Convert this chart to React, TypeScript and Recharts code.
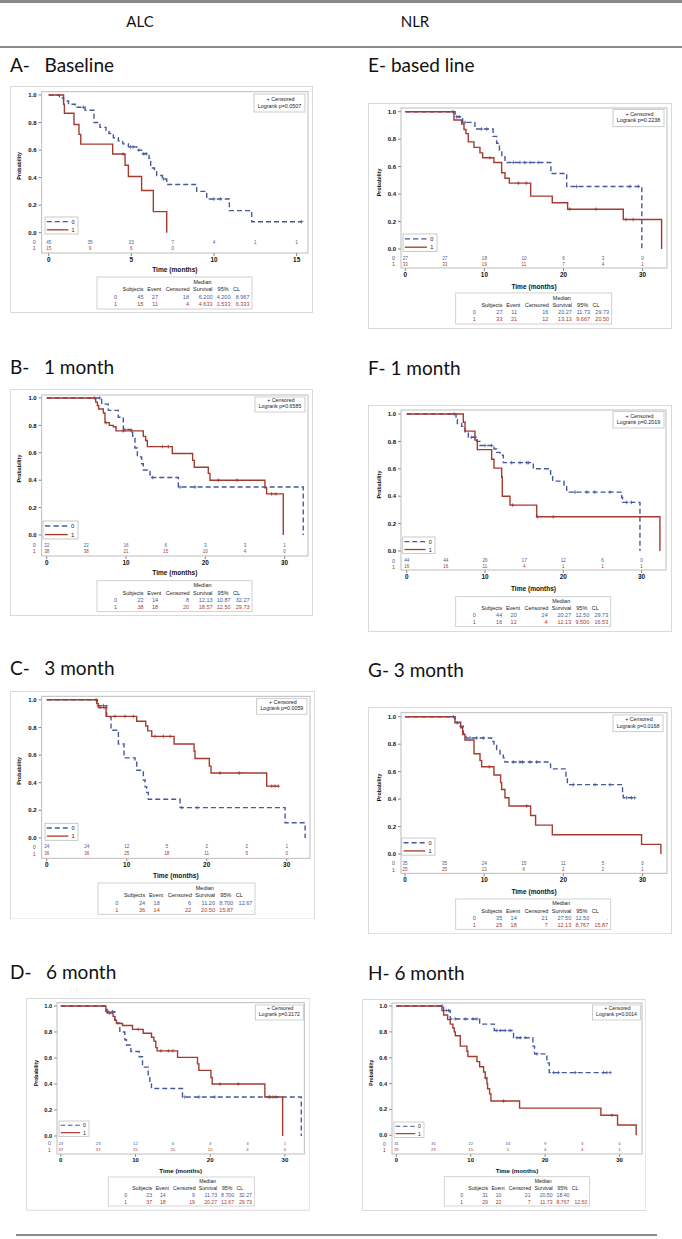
import React from 'react';
import { ComposedChart, Line, Scatter, XAxis, YAxis } from 'recharts';

const BLUE = '#46599c';
const RED = '#a53b30';
const FONT = '"Liberation Sans", Arial, sans-serif';
const TFONT = 'Lato, "Open Sans", sans-serif';

// risk-table times
const RISK_T_A = [0, 2.5, 5, 7.5, 10, 12.5, 15];
const RISK_T = [0, 5, 10, 15, 20, 25, 30];
const X_TICKS_A = [0, 5, 10, 15];
const X_TICKS = [0, 10, 20, 30];
const Y_TICKS = [0, 0.2, 0.4, 0.6, 0.8, 1];

// ---- A: ALC baseline
const A0_T = [0.65, 0.9, 1.2, 1.6, 2.2, 2.74, 3.1, 3.47, 3.65, 3.91, 4.21, 4.48, 4.82, 5.32, 5.62, 6.07, 6.17, 6.4, 6.53, 6.88, 7.14, 8.95, 9.56, 10.93, 12.28];
const A0_S = [0.978, 0.956, 0.933, 0.911, 0.889, 0.8, 0.765, 0.742, 0.72, 0.69, 0.667, 0.645, 0.623, 0.6, 0.573, 0.54, 0.47, 0.443, 0.415, 0.39, 0.35, 0.3, 0.245, 0.16, 0.08];
const A0_C = [2.1, 4.95, 5.1, 5.45, 5.75, 5.9, 6.95, 10.0, 10.4, 15.3];
const A1_T = [0.9, 0.95, 1.53, 1.83, 1.94, 3.87, 4.62, 4.82, 5.62, 6.33, 7.14];
const A1_S = [0.933, 0.867, 0.786, 0.714, 0.643, 0.571, 0.49, 0.408, 0.306, 0.153, 0];
const A1_C = [4.5];
const A_R0 = [45, 35, 23, 7, 4, 1, 1];
const A_R1 = [15, 9, 6, 0];
const A_TAB0 = ['0', '45', '27', '18', '6.200', '4.200', '8.967'];
const A_TAB1 = ['1', '15', '11', '4', '4.633', '1.533', '6.333'];
const A_P = '0.0507';

// ---- E: NLR baseline
const E0_T = [6.3, 7.25, 8.8, 11.1, 11.55, 11.9, 12.2, 12.6, 18.4, 20.4, 29.9];
const E0_S = [0.963, 0.922, 0.874, 0.82, 0.77, 0.72, 0.67, 0.63, 0.55, 0.455, 0];
const E0_C = [6.0, 6.5, 6.8, 7.55, 9.65, 10.3, 13.65, 14.5, 15.1, 15.76, 16.8, 21.66, 28.4, 29.46];
const E1_T = [6.15, 7.12, 7.42, 7.67, 7.96, 8.68, 9.44, 9.78, 11.2, 12.18, 12.6, 13.15, 15.85, 18.58, 20.52, 27.56, 32.4];
const E1_S = [0.94, 0.91, 0.87, 0.84, 0.78, 0.74, 0.7, 0.665, 0.63, 0.555, 0.515, 0.48, 0.385, 0.337, 0.29, 0.215, 0];
const E1_C = [10.7, 14.3, 15.3, 20.8, 24.1, 27.9, 28.8];
const E_R0 = [27, 27, 18, 10, 6, 3, 0];
const E_R1 = [33, 33, 19, 11, 7, 4, 1];
const E_TAB0 = ['0', '27', '11', '16', '20.27', '11.73', '29.73'];
const E_TAB1 = ['1', '33', '21', '12', '13.13', '9.667', '20.50'];
const E_P = '0.2238';

// ---- B: ALC 1 month
const B0_T = [6.93, 7.77, 9.03, 9.66, 10.84, 11.13, 11.43, 11.97, 12.18, 13.03, 16.6, 32.35];
const B0_S = [0.955, 0.91, 0.86, 0.77, 0.71, 0.635, 0.57, 0.52, 0.475, 0.42, 0.35, 0];
const B0_C = [6.7, 9.87, 13.36, 16.8, 18.7];
const B1_T = [6.18, 6.39, 6.55, 7.14, 7.35, 7.9, 8.4, 8.74, 12.18, 12.48, 12.69, 15.84, 18.4, 18.61, 20.38, 20.59, 27.52, 27.73, 29.83];
const B1_S = [0.97, 0.945, 0.92, 0.89, 0.82, 0.8, 0.79, 0.76, 0.72, 0.69, 0.645, 0.595, 0.545, 0.495, 0.45, 0.4, 0.345, 0.3, 0];
const B1_C = [6.0, 7.48, 9.66, 10.7, 14.58, 15.34, 21.64, 24.0, 28.36, 28.9];
const B_R0 = [22, 22, 16, 6, 3, 3, 1];
const B_R1 = [38, 38, 21, 15, 10, 4, 0];
const B_TAB0 = ['0', '22', '14', '8', '12.13', '10.87', '32.27'];
const B_TAB1 = ['1', '38', '18', '20', '18.57', '12.50', '29.73'];
const B_P = '0.6585';

// ---- F: NLR 1 month
const F0_T = [6.3, 6.47, 7.02, 7.45, 7.87, 8.94, 9.36, 11.15, 11.49, 11.91, 12.34, 16.17, 18.38, 18.64, 20.09, 20.43, 27.45, 27.57, 29.79];
const F0_S = [0.96, 0.93, 0.91, 0.87, 0.83, 0.8, 0.77, 0.745, 0.72, 0.7, 0.645, 0.6, 0.55, 0.51, 0.47, 0.43, 0.39, 0.355, 0];
const F0_C = [6.04, 8.3, 8.72, 10.0, 10.85, 13.4, 14.47, 15.32, 15.53, 21.5, 23.0, 24.0, 25.96, 28.1, 28.7];
const F1_T = [7.23, 7.45, 8.72, 9.02, 10.85, 11.15, 12.13, 12.21, 13.19, 16.6, 32.34];
const F1_S = [0.94, 0.875, 0.81, 0.74, 0.67, 0.605, 0.54, 0.4, 0.335, 0.25, 0];
const F1_C = [13.53, 16.7, 18.72];
const F_R0 = [44, 44, 26, 17, 12, 6, 0];
const F_R1 = [16, 16, 11, 4, 1, 1, 1];
const F_TAB0 = ['0', '44', '20', '24', '20.27', '12.50', '29.73'];
const F_TAB1 = ['1', '16', '12', '4', '12.13', '9.500', '16.53'];
const F_P = '0.2019';

// ---- C: ALC 3 month
const C0_T = [6.33, 7.5, 8.04, 8.96, 9.67, 11.04, 11.25, 12.08, 12.3, 12.5, 12.7, 16.67, 29.8, 32.3];
const C0_S = [0.958, 0.875, 0.78, 0.68, 0.58, 0.55, 0.49, 0.42, 0.37, 0.33, 0.28, 0.22, 0.11, 0];
const C0_C = [7.1, 16.9, 18.8];
const C1_T = [6.25, 6.46, 7.42, 11.25, 12.38, 12.63, 13.13, 15.92, 18.42, 18.54, 20.33, 20.54, 27.5];
const C1_S = [0.972, 0.944, 0.88, 0.845, 0.81, 0.775, 0.735, 0.68, 0.63, 0.575, 0.52, 0.47, 0.375];
const C1_C = [6.17, 6.67, 7.17, 8.54, 9.79, 10.83, 13.54, 14.58, 15.42, 21.67, 24.08, 28.13, 28.54, 28.96];
const C_R0 = [24, 24, 12, 5, 2, 2, 1];
const C_R1 = [36, 36, 25, 18, 11, 5, 0];
const C_TAB0 = ['0', '24', '18', '6', '11.20', '8.700', '12.67'];
const C_TAB1 = ['1', '36', '14', '22', '20.50', '15.87', '.'];
const C_P = '0.0059';

// ---- G: NLR 3 month
const G0_T = [6.31, 6.86, 7.36, 7.7, 10.94, 11.23, 11.57, 11.99, 12.41, 12.62, 18.38, 20.32, 20.5, 27.47, 27.56];
const G0_S = [0.955, 0.93, 0.875, 0.845, 0.82, 0.79, 0.76, 0.73, 0.7, 0.67, 0.62, 0.56, 0.505, 0.45, 0.41];
const G0_C = [6.1, 6.6, 8.2, 9.05, 9.89, 13.67, 14.51, 14.85, 15.78, 16.62, 21.25, 23.98, 25.87, 27.98, 28.6, 29.0];
const G1_T = [6.31, 7.03, 7.28, 7.57, 8.71, 9.47, 9.68, 11.23, 12.07, 12.2, 12.62, 13.13, 15.86, 16.49, 18.6, 29.87, 32.31];
const G1_S = [0.96, 0.92, 0.87, 0.83, 0.73, 0.68, 0.635, 0.575, 0.52, 0.47, 0.41, 0.35, 0.28, 0.21, 0.14, 0.07, 0];
const G1_C = [10.64, 15.36];
const G_R0 = [35, 35, 24, 15, 11, 5, 0];
const G_R1 = [25, 25, 13, 6, 2, 2, 1];
const G_TAB0 = ['0', '35', '14', '21', '27.50', '12.50', '.'];
const G_TAB1 = ['1', '25', '18', '7', '12.13', '8.767', '15.87'];
const G_P = '0.0168';

// ---- D: ALC 6 month
const D0_T = [6.03, 7.23, 7.9, 8.57, 8.79, 9.38, 10.49, 10.94, 11.7, 11.92, 12.14, 16.29, 32.2];
const D0_S = [0.957, 0.87, 0.8, 0.74, 0.7, 0.65, 0.61, 0.53, 0.47, 0.415, 0.365, 0.3, 0];
const D0_C = [6.34, 6.92, 16.6, 18.5, 20.6, 27.9, 28.8];
const D1_T = [6.03, 6.2, 7.0, 7.23, 7.46, 8.26, 9.6, 11.03, 12.14, 12.46, 12.72, 12.9, 15.63, 18.3, 18.48, 20.1, 20.27, 27.32, 29.7];
const D1_S = [0.973, 0.946, 0.92, 0.89, 0.865, 0.85, 0.82, 0.79, 0.76, 0.73, 0.68, 0.655, 0.605, 0.555, 0.505, 0.45, 0.4, 0.3, 0];
const D1_C = [6.56, 10.36, 13.4, 14.4, 15.0, 21.3, 23.75, 28.0, 28.4];
const D_R0 = [23, 23, 12, 6, 3, 3, 1];
const D_R1 = [37, 37, 25, 15, 10, 4, 0];
const D_TAB0 = ['0', '23', '14', '9', '11.73', '8.700', '32.27'];
const D_TAB1 = ['1', '37', '18', '19', '20.27', '12.67', '29.73'];
const D_P = '0.2172';

// ---- H: NLR 6 month
const H0_T = [6.36, 7.25, 11.2, 13.17, 15.76, 18.36, 18.58, 20.24, 20.56];
const H0_S = [0.965, 0.9, 0.86, 0.81, 0.755, 0.69, 0.63, 0.56, 0.485];
const H0_C = [6.13, 6.72, 7.03, 7.93, 9.27, 10.3, 10.84, 13.52, 13.97, 14.64, 15.32, 16.21, 16.66, 17.33, 18.9, 21.15, 21.8, 24.05, 27.85, 28.3, 28.75];
const H1_T = [6.13, 6.36, 6.9, 7.25, 7.61, 7.79, 7.93, 8.6, 9.49, 9.63, 10.84, 11.2, 11.73, 11.96, 12.18, 12.27, 12.54, 12.72, 16.57, 27.5, 29.74, 32.24];
const H1_S = [0.965, 0.93, 0.895, 0.86, 0.83, 0.8, 0.77, 0.69, 0.65, 0.61, 0.57, 0.53, 0.49, 0.445, 0.4, 0.36, 0.32, 0.265, 0.21, 0.155, 0.08, 0];
const H1_C = [12.0, 14.42, 28.97];
const H_R0 = [31, 31, 22, 16, 9, 3, 0];
const H_R1 = [29, 29, 15, 5, 4, 4, 1];
const H_TAB0 = ['0', '31', '10', '21', '20.50', '18.40', '.'];
const H_TAB1 = ['1', '29', '22', '7', '11.73', '8.767', '12.50'];
const H_P = '0.0014';

type Grp = { T: number[]; S: number[]; C: number[] };

// page layout of each panel (pixels): frame, wall, axis anchors, boxes
const PANELS = [
  {
    title: 'A-   Baseline', tx: 10, ty: 65, xTicks: X_TICKS_A, riskT: RISK_T_A,
    L: { fx: 10, fy: 86, fw: 303, fh: 227, wl: 41.7, wt: 91.7, wr: 308, wb: 253, x0: 48.7, k: 16.53, y1: 95, y0: 232.7, r0: 242.3, r1: 248.3, xt: 269, tb: [97, 277, 155, 32], lr: [254, 94, 51, 18], lg: [45, 217, 33, 17] },
    g0: { T: A0_T, S: A0_S, C: A0_C }, g1: { T: A1_T, S: A1_S, C: A1_C }, r0: A_R0, r1: A_R1, tab0: A_TAB0, tab1: A_TAB1, p: A_P,
  },
  {
    title: 'E- based line', tx: 368, ty: 65, xTicks: X_TICKS, riskT: RISK_T,
    L: { fx: 368, fy: 103, fw: 304, fh: 226, wl: 401, wt: 108, wr: 667, wb: 268, x0: 405.3, k: 7.91, y1: 111.7, y0: 249, r0: 258.3, r1: 264.3, xt: 286, tb: [455.7, 293, 156, 31], lr: [613, 109.3, 51, 17.4], lg: [403, 234, 34, 16] },
    g0: { T: E0_T, S: E0_S, C: E0_C }, g1: { T: E1_T, S: E1_S, C: E1_C }, r0: E_R0, r1: E_R1, tab0: E_TAB0, tab1: E_TAB1, p: E_P,
  },
  {
    title: 'B-   1 month', tx: 10, ty: 367, xTicks: X_TICKS, riskT: RISK_T,
    L: { fx: 10, fy: 389, fw: 303, fh: 227, wl: 41.7, wt: 395, wr: 308, wb: 556, x0: 46.7, k: 7.93, y1: 398, y0: 535, r0: 545, r1: 551, xt: 572.7, tb: [97, 580.7, 155, 31], lr: [255, 397, 50, 15], lg: [43, 521, 35, 16] },
    g0: { T: B0_T, S: B0_S, C: B0_C }, g1: { T: B1_T, S: B1_S, C: B1_C }, r0: B_R0, r1: B_R1, tab0: B_TAB0, tab1: B_TAB1, p: B_P,
  },
  {
    title: 'F- 1 month', tx: 368, ty: 368, xTicks: X_TICKS, riskT: RISK_T,
    L: { fx: 368, fy: 405, fw: 304, fh: 227, wl: 401, wt: 410, wr: 666, wb: 570, x0: 406.7, k: 7.83, y1: 414, y0: 551, r0: 560.7, r1: 566.7, xt: 588, tb: [455.7, 596.7, 155, 30], lr: [613, 411.7, 51, 16.3], lg: [402.7, 537, 32.3, 16] },
    g0: { T: F0_T, S: F0_S, C: F0_C }, g1: { T: F1_T, S: F1_S, C: F1_C }, r0: F_R0, r1: F_R1, tab0: F_TAB0, tab1: F_TAB1, p: F_P,
  },
  {
    title: 'C-   3 month', tx: 10, ty: 668, xTicks: X_TICKS, riskT: RISK_T,
    L: { fx: 10, fy: 690.7, fw: 305, fh: 228.6, wl: 41.7, wt: 696, wr: 310, wb: 858, x0: 46.7, k: 8.0, y1: 699.5, y0: 837.7, r0: 846.7, r1: 853.3, xt: 875, tb: [98, 882.7, 157, 31.3], lr: [256.7, 698, 50.3, 16], lg: [45, 823, 33, 17] },
    g0: { T: C0_T, S: C0_S, C: C0_C }, g1: { T: C1_T, S: C1_S, C: C1_C }, r0: C_R0, r1: C_R1, tab0: C_TAB0, tab1: C_TAB1, p: C_P,
  },
  {
    title: 'G- 3 month', tx: 368, ty: 670, xTicks: X_TICKS, riskT: RISK_T,
    L: { fx: 368, fy: 707, fw: 304, fh: 227.3, wl: 401, wt: 712.7, wr: 667, wb: 873.3, x0: 405, k: 7.92, y1: 716.7, y0: 854, r0: 863.3, r1: 870, xt: 891, tb: [455.7, 899, 155, 30.3], lr: [613, 715, 50, 16.7], lg: [401.7, 838, 33.3, 17] },
    g0: { T: G0_T, S: G0_S, C: G0_C }, g1: { T: G1_T, S: G1_S, C: G1_C }, r0: G_R0, r1: G_R1, tab0: G_TAB0, tab1: G_TAB1, p: G_P,
  },
  {
    title: 'D-   6 month', tx: 10, ty: 972, xTicks: X_TICKS, riskT: RISK_T,
    L: { fx: 25.7, fy: 998, fw: 284.3, fh: 212.7, wl: 56.7, wt: 1002.7, wr: 304, wb: 1154, x0: 60.5, k: 7.47, y1: 1006, y0: 1136, r0: 1143.3, r1: 1150, xt: 1170.7, tb: [108, 1177, 146, 29], lr: [255, 1005, 48, 15], lg: [58.7, 1121, 30, 15] },
    g0: { T: D0_T, S: D0_S, C: D0_C }, g1: { T: D1_T, S: D1_S, C: D1_C }, r0: D_R0, r1: D_R1, tab0: D_TAB0, tab1: D_TAB1, p: D_P,
  },
  {
    title: 'H- 6 month', tx: 368, ty: 973, xTicks: X_TICKS, riskT: RISK_T,
    L: { fx: 361.7, fy: 999, fw: 284.3, fh: 212, wl: 391.7, wt: 1003, wr: 641.7, wb: 1154, x0: 396, k: 7.44, y1: 1006, y0: 1135.3, r0: 1144, r1: 1150, xt: 1170, tb: [444, 1176.7, 145.3, 29.3], lr: [592.3, 1005, 47.7, 15], lg: [393.7, 1122, 30, 15] },
    g0: { T: H0_T, S: H0_S, C: H0_C }, g1: { T: H1_T, S: H1_S, C: H1_C }, r0: H_R0, r1: H_R1, tab0: H_TAB0, tab1: H_TAB1, p: H_P,
  },
];

function stepPts(g: Grp) {
  const pts = [{ t: 0, s: 1 }];
  g.T.forEach((t, i) => pts.push({ t, s: g.S[i] }));
  const lastT = g.T[g.T.length - 1];
  const lastC = g.C.length ? Math.max(...g.C) : 0;
  if (lastC > lastT) pts.push({ t: lastC, s: g.S[g.S.length - 1] });
  return pts;
}

function survAt(g: Grp, t: number) {
  let s = 1;
  g.T.forEach((ti, i) => {
    if (ti <= t) s = g.S[i];
  });
  return s;
}

const plusShape = (color: string, r: number) => (p: any) => (
  <path d={`M${p.cx - r},${p.cy}H${p.cx + r}M${p.cx},${p.cy - r}V${p.cy + r}`} stroke={color} strokeWidth={0.8} fill="none" />
);

const riskText = (color: string, fs: number) => (p: any) => (
  <text x={p.cx} y={p.cy} textAnchor="middle" dominantBaseline="central" fontSize={fs} fill={color} fontFamily={FONT}>
    {p.payload.n}
  </text>
);

// summary table, drawn in a 155 x 31 box then scaled
const TAB_HEAD = ['Subjects', 'Event', 'Censored', 'Survival', '95%'];
const TAB_HEAD_X = [46.6, 64.3, 92.6, 115.6, 131.6];
const TAB_VAL_X = [46.5, 61, 92, 115.5, 133.5, 152.5];

function SummaryTable({ box, row0, row1 }: { box: number[]; row0: string[]; row1: string[] }) {
  const [x, y, w, h] = box;
  const sx = w / 155, sy = h / 31;
  const fs = 5.5;
  const row = (r: string[], yy: number, c: string) => (
    <g fill={c}>
      <text x={18.5} y={yy} textAnchor="middle">{r[0]}</text>
      {r.slice(1).map((v, i) => (
        <text key={i} x={TAB_VAL_X[i]} y={yy} textAnchor="end">{v}</text>
      ))}
    </g>
  );
  return (
    <g transform={`translate(${x},${y}) scale(${sx},${sy})`} fontSize={fs} fontFamily={FONT} dominantBaseline="central">
      <rect x={0} y={0} width={155} height={31} fill="#fff" stroke="#c6c6c6" strokeWidth={0.8} />
      <text x={105.5} y={4.6} textAnchor="middle" fill="#222">Median</text>
      {TAB_HEAD.map((hd, i) => (
        <text key={hd} x={TAB_HEAD_X[i]} y={12} textAnchor="end" fill="#222">{hd}</text>
      ))}
      <text x={136} y={12} fill="#222">CL</text>
      {row(row0, 19.4, BLUE)}
      {row(row1, 26.4, RED)}
    </g>
  );
}

function KMPanel({ P }: { P: any }) {
  const L = P.L;
  const u = L.y0 - L.y1;
  const f = u / 137.5;
  const xmin = (L.wl - L.x0) / L.k;
  const xmax = (L.wr - L.x0) / L.k;
  const ymin = -(L.wb - L.y0) / u;
  const ymax = 1 + (L.y1 - L.wt) / u;
  const YW = 24;
  const XH = 14;
  const margin = {
    left: L.wl - L.fx - YW,
    top: L.wt - L.fy,
    right: L.fx + L.fw - L.wr,
    bottom: L.fy + L.fh - L.wb - XH,
  };
  const rv0 = -(L.r0 - L.y0) / u;
  const rv1 = -(L.r1 - L.y0) / u;
  const risk0 = P.r0.map((n: number, i: number) => ({ t: P.riskT[i], s: rv0, n }));
  const risk1 = P.r1.map((n: number, i: number) => ({ t: P.riskT[i], s: rv1, n }));
  const cens0 = P.g0.C.map((t: number) => ({ t, s: survAt(P.g0, t) }));
  const cens1 = P.g1.C.map((t: number) => ({ t, s: survAt(P.g1, t) }));

  // overlay coords are relative to the frame
  const ox = (v: number) => v - L.fx;
  const oy = (v: number) => v - L.fy;
  const [lgx, lgy, lgw] = L.lg;
  const lgs = lgw / 33;
  const [lrx, lry, lrw, lrh] = L.lr;
  const lrs = lrw / 51;

  return (
    <div style={{ position: 'absolute', left: L.fx, top: L.fy, width: L.fw, height: L.fh }}>
      <ComposedChart width={L.fw} height={L.fh} margin={margin}>
        <XAxis
          type="number"
          dataKey="t"
          domain={[xmin, xmax]}
          allowDataOverflow
          ticks={P.xTicks}
          interval={0}
          height={XH}
          tickSize={3 * f}
          tickMargin={1}
          axisLine={false}
          tickLine={{ stroke: '#666', strokeWidth: 0.8 }}
          tick={{ fontSize: 6.4 * f, fill: '#111', fontFamily: FONT, fontWeight: 700 }}
        />
        <YAxis
          type="number"
          dataKey="s"
          domain={[ymin, ymax]}
          allowDataOverflow
          ticks={Y_TICKS}
          interval={0}
          width={YW}
          tickSize={3 * f}
          tickMargin={2}
          axisLine={false}
          tickLine={{ stroke: '#666', strokeWidth: 0.8 }}
          tickFormatter={(v: number) => v.toFixed(1)}
          tick={{ fontSize: 6 * f, fill: '#111', fontFamily: FONT, fontWeight: 700 }}
        />
        <Line data={stepPts(P.g0)} dataKey="s" type="stepAfter" stroke={BLUE} strokeWidth={1.4} strokeDasharray="5 3" dot={false} isAnimationActive={false} />
        <Line data={stepPts(P.g1)} dataKey="s" type="stepAfter" stroke={RED} strokeWidth={1.4} dot={false} isAnimationActive={false} />
        <Scatter data={cens0} shape={plusShape(BLUE, 1.8 * f)} isAnimationActive={false} />
        <Scatter data={cens1} shape={plusShape(RED, 1.8 * f)} isAnimationActive={false} />
        <Scatter data={risk0} shape={riskText(BLUE, 4.6 * f)} isAnimationActive={false} />
        <Scatter data={risk1} shape={riskText(RED, 4.6 * f)} isAnimationActive={false} />
      </ComposedChart>
      <svg width={L.fw} height={L.fh} style={{ position: 'absolute', left: 0, top: 0, pointerEvents: 'none' }} fontFamily={FONT}>
        <rect x={0.5} y={0.5} width={L.fw - 1} height={L.fh - 1} fill="none" stroke="#dadada" strokeWidth={1} />
        <rect x={ox(L.wl)} y={oy(L.wt)} width={L.wr - L.wl} height={L.wb - L.wt} fill="none" stroke="#b5b5b5" strokeWidth={0.9} />
        <text
          transform={`translate(${ox(L.wl) - 22.5 * f},${oy((L.y0 + L.y1) / 2) + 2}) rotate(-90)`}
          textAnchor="middle"
          dominantBaseline="central"
          fontSize={5.4 * f}
          fontWeight={700}
          fill="#111"
        >
          Probability
        </text>
        <text x={ox(L.wl) - 7.5} y={oy(L.r0)} textAnchor="middle" dominantBaseline="central" fontSize={5.4 * f} fill={BLUE}>0</text>
        <text x={ox(L.wl) - 7.5} y={oy(L.r1)} textAnchor="middle" dominantBaseline="central" fontSize={5.4 * f} fill={RED}>1</text>
        <text x={ox((L.wl + L.wr) / 2)} y={oy(L.xt)} textAnchor="middle" dominantBaseline="central" fontSize={6.6 * f} fontWeight={700} fill="#111">
          Time (months)
        </text>
        <g transform={`translate(${ox(lgx)},${oy(lgy)}) scale(${lgs})`} fontSize={5.6}>
          <rect x={0} y={0} width={33} height={17} fill="#fff" stroke="#bdbdbd" strokeWidth={0.8} />
          <line x1={1.8} x2={23.3} y1={4.7} y2={4.7} stroke={BLUE} strokeWidth={1.3} strokeDasharray="5 3" />
          <text x={26.5} y={4.7} dominantBaseline="central" fill="#222">0</text>
          <line x1={1.8} x2={23.3} y1={12.8} y2={12.8} stroke={RED} strokeWidth={1.3} />
          <text x={26.5} y={12.8} dominantBaseline="central" fill="#222">1</text>
        </g>
        <g transform={`translate(${ox(lrx)},${oy(lry)}) scale(${lrs},${lrh / 18 / lrs * lrs})`} fontSize={5.4}>
          <rect x={0} y={0} width={51} height={18} fill="#fff" stroke="#bdbdbd" strokeWidth={0.8} />
          <text x={26.5} y={4.6} textAnchor="middle" dominantBaseline="central" fill="#222">+ Censored</text>
          <text x={25.5} y={11.6} textAnchor="middle" dominantBaseline="central" fill="#222">{`Logrank p=${P.p}`}</text>
        </g>
        <SummaryTable box={[ox(L.tb[0]), oy(L.tb[1]), L.tb[2], L.tb[3]]} row0={P.tab0} row1={P.tab1} />
      </svg>
    </div>
  );
}

export default function App() {
  return (
    <div style={{ position: 'absolute', left: 0, top: 0, width: 682, height: 1239, background: '#fff', overflow: 'hidden' }}>
      <div style={{ position: 'absolute', left: 0, top: 0, width: 682, height: 2.5, background: '#8a8a8a' }} />
      <div style={{ position: 'absolute', left: 0, top: 45.8, width: 682, height: 2.2, background: '#8a8a8a' }} />
      <div style={{ position: 'absolute', left: 16, top: 1233.5, width: 641, height: 2, background: '#8a8a8a' }} />
      <div style={{ position: 'absolute', left: 100, top: 11, width: 80, textAlign: 'center', fontFamily: TFONT, fontSize: 15, lineHeight: '20px', color: '#111' }}>ALC</div>
      <div style={{ position: 'absolute', left: 375, top: 11, width: 80, textAlign: 'center', fontFamily: TFONT, fontSize: 15, lineHeight: '20px', color: '#111' }}>NLR</div>
      {PANELS.map((P) => (
        <div
          key={P.title}
          style={{ position: 'absolute', left: P.tx, top: P.ty - 12, height: 24, lineHeight: '24px', fontFamily: TFONT, fontSize: 19, whiteSpace: 'pre', color: '#111' }}
        >
          {P.title}
        </div>
      ))}
      {PANELS.map((P) => (
        <KMPanel key={P.title + '-km'} P={P} />
      ))}
    </div>
  );
}
